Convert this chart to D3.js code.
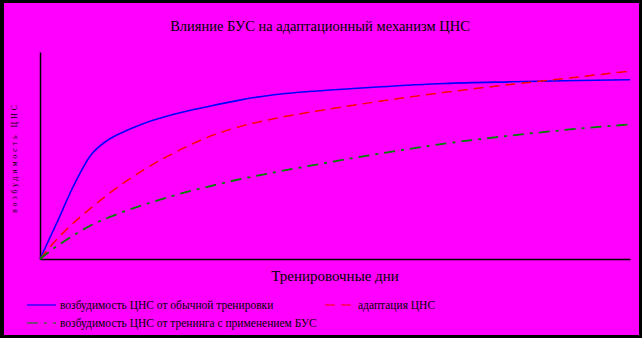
<!DOCTYPE html>
<html>
<head>
<meta charset="utf-8">
<script src="https://cdn.jsdelivr.net/npm/d3@7"></script>
<style>
  html, body { margin: 0; padding: 0; background: #000; }
  svg { display: block; }
  text { font-family: "Liberation Serif", "Times New Roman", serif; fill: #000; }
</style>
</head>
<body>
<svg id="chart" width="642" height="338"></svg>
<script>
// Training days and excitability levels for each series
const days       = [0, 1, 2, 3, 4, 5, 6, 8, 10, 12, 14, 17, 20, 24, 28, 32, 35];
const regular    = [0, 17.5, 35.5, 50, 57.3, 61.6, 65, 70, 73.7, 77, 79.5, 81.5, 83.1, 84.8, 85.6, 86.2, 86.6];
const adaptation = [0, 9.5, 17.5, 24.5, 31, 37, 42.3, 51.5, 59, 64.3, 68, 72.2, 76, 80.5, 84.4, 88, 90.8];
const withBUS    = [0, 6.2, 11.5, 16.2, 19.8, 23, 25.8, 30.8, 35, 38.8, 42, 46.5, 50.7, 55.7, 59.7, 63, 65];

const title = "Влияние БУС на адаптационный механизм ЦНС";
const xTitle = "Тренировочные дни";
const yTitle = "возбудимость ЦНС";

const seriesNames = [
  "возбудимость ЦНС от обычной тренировки",
  "адаптация ЦНС",
  "возбудимость ЦНС от тренинга с применением БУС"
];

const series = [
  { name: seriesNames[0], values: regular,    color: "#0000FF", dash: null,        width: 1.6 },
  { name: seriesNames[1], values: adaptation, color: "#FF0000", dash: "10,6",      width: 1.5 },
  { name: seriesNames[2], values: withBUS,    color: "#008000", dash: "11,6,3,6",  width: 1.8 }
];

const svg = d3.select("#chart");

// Magenta canvas inside a thin black frame
svg.append("rect")
  .attr("x", 4).attr("y", 3)
  .attr("width", 635).attr("height", 332)
  .attr("fill", "#FF00FF");

const x = d3.scaleLinear().domain([0, 35]).range([40, 630]);
const y = d3.scaleLinear().domain([0, 100]).range([259, 52]);

// Axes without ticks
svg.append("g")
  .attr("transform", `translate(0,${y(0)})`)
  .call(d3.axisBottom(x).tickValues([]).tickSizeOuter(0))
  .select(".domain").attr("stroke", "#000").attr("stroke-width", 1.5);

svg.append("g")
  .attr("transform", `translate(${x(0)},0)`)
  .call(d3.axisLeft(y).tickValues([]).tickSizeOuter(0))
  .select(".domain").attr("stroke", "#000").attr("stroke-width", 1.5);

// Curves
const line = d3.line()
  .x((d, i) => x(days[i]))
  .y(d => y(d))
  .curve(d3.curveMonotoneX);

series.forEach(s => {
  svg.append("path")
    .datum(s.values)
    .attr("d", line)
    .attr("fill", "none")
    .attr("stroke", s.color)
    .attr("stroke-width", s.width)
    .attr("stroke-dasharray", s.dash);
});

// Titles
svg.append("text")
  .attr("x", 320).attr("y", 31)
  .attr("text-anchor", "middle")
  .attr("font-size", 14.5)
  .text(title);

svg.append("text")
  .attr("x", 335).attr("y", 281)
  .attr("text-anchor", "middle")
  .attr("font-size", 15)
  .text(xTitle);

svg.append("text")
  .attr("transform", "translate(17,159) rotate(-90)")
  .attr("text-anchor", "middle")
  .attr("font-size", 8)
  .attr("textLength", 108)
  .attr("lengthAdjust", "spacing")
  .text(yTitle);

// Legend
const legendItems = [
  { s: series[0], x: 27,  y: 305 },
  { s: series[1], x: 325, y: 305 },
  { s: series[2], x: 27,  y: 323 }
];

legendItems.forEach(item => {
  svg.append("line")
    .attr("x1", item.x).attr("x2", item.x + 29)
    .attr("y1", item.y).attr("y2", item.y)
    .attr("stroke", item.s.color)
    .attr("stroke-width", 1.2)
    .attr("stroke-dasharray", item.s.dash);
  svg.append("text")
    .attr("x", item.x + 33).attr("y", item.y + 4)
    .attr("font-size", 11.5)
    .text(item.s.name);
});
</script>
</body>
</html>
